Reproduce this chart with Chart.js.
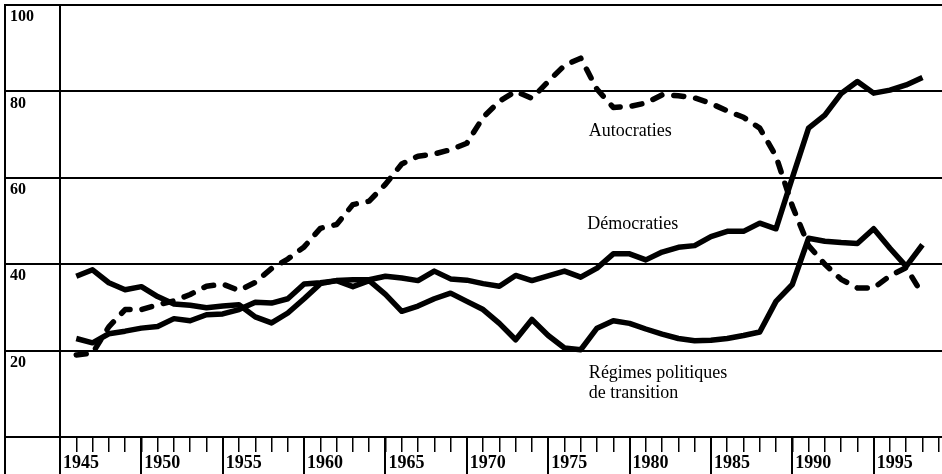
<!DOCTYPE html>
<html>
<head>
<meta charset="utf-8">
<script src="https://cdn.jsdelivr.net/npm/chart.js@4.4.1/dist/chart.umd.min.js"></script>
<style>
  html, body { margin: 0; padding: 0; background: #fff; }
  canvas { display: block; }
</style>
</head>
<body>
<canvas id="chart" width="942" height="474"></canvas>
<script>
// yearly shares
const years = [
  1946, 1947, 1948, 1949, 1950, 1951, 1952, 1953, 1954, 1955,
  1956, 1957, 1958, 1959, 1960, 1961, 1962, 1963, 1964, 1965,
  1966, 1967, 1968, 1969, 1970, 1971, 1972, 1973, 1974, 1975,
  1976, 1977, 1978, 1979, 1980, 1981, 1982, 1983, 1984, 1985,
  1986, 1987, 1988, 1989, 1990, 1991, 1992, 1993, 1994, 1995,
  1996, 1997, 1998,
];

const autocraties = [
  19, 19.4, 25.5, 29.5, 29.5, 30.6, 31.5, 33, 34.9, 35.4,
  33.9, 35.8, 39, 41.2, 44, 48.3, 49.2, 53.8, 54.6, 58.5,
  63.2, 65, 65.5, 66.5, 68, 74, 77.7, 80, 78.4, 82.3,
  86, 87.7, 80.5, 76.3, 76.5, 77.3, 79.2, 79, 78.5, 77.2,
  75.5, 74, 71.5, 65, 53.5, 44.3, 40, 36.5, 34.5, 34.5,
  37.3, 39.2, 33,
];

const democraties = [
  22.8, 21.8, 23.9, 24.5, 25.2, 25.6, 27.4, 26.9, 28.3, 28.5,
  29.5, 31.2, 31, 32, 35.4, 35.7, 36.2, 36.4, 36.4, 37.2,
  36.8, 36.2, 38.4, 36.6, 36.3, 35.5, 34.9, 37.4, 36.2, 37.3,
  38.4, 37, 39.1, 42.4, 42.4, 41, 42.8, 43.9, 44.3, 46.4,
  47.6, 47.6, 49.5, 48.2, 60, 71.5, 74.5, 79.5, 82.3, 79.6,
  80.3, 81.5, 83.2,
];

const transition = [
  37.2, 38.7, 35.7, 34.1, 34.8, 32.5, 30.8, 30.5, 29.9, 30.3,
  30.6, 27.8, 26.4, 28.7, 32, 35.5, 36.2, 34.8, 36.2, 33,
  29.1, 30.3, 32, 33.3, 31.4, 29.5, 26.3, 22.5, 27.2, 23.5,
  20.6, 20.2, 25.2, 26.9, 26.3, 25, 23.8, 22.8, 22.3, 22.4,
  22.8, 23.5, 24.3, 31.4, 35.3, 46, 45.3, 45, 44.8, 48.2,
  43.7, 39.5, 44.5,
];

const labelYears = [1945, 1950, 1955, 1960, 1965, 1970, 1975, 1980, 1985, 1990, 1995];

const notes = [
  { text: "Autocraties", year: 1977.5, value: 69.7 },
  { text: "Démocraties", year: 1977.4, value: 48.1 },
  { text: "Régimes politiques", year: 1977.5, value: 13.7 },
  { text: "de transition", year: 1977.5, value: 9.0 },
];

const serif = "'Liberation Serif', 'Times New Roman', serif";

const toPoints = (series) => years.map((yr, i) => ({ x: yr, y: series[i] }));

const lineStyle = {
  borderColor: "#000",
  borderWidth: 5.5,
  pointRadius: 0,
  tension: 0,
  fill: false,
  borderJoinStyle: "round",
};

// frame, long year ticks and the in-plot captions
const framePlugin = {
  id: "frame",
  afterDraw(chart) {
    const { ctx, chartArea, scales } = chart;
    const h = chart.height;
    ctx.save();
    ctx.strokeStyle = "#000";
    ctx.lineWidth = 2;
    ctx.beginPath();
    ctx.moveTo(5, 4);
    ctx.lineTo(5, h);
    labelYears.forEach((yr) => {
      const px = Math.round(scales.x.getPixelForValue(yr));
      ctx.moveTo(px, chartArea.bottom);
      ctx.lineTo(px, h);
    });
    ctx.stroke();

    ctx.fillStyle = "#000";
    ctx.font = "18px " + serif;
    ctx.textBaseline = "alphabetic";
    ctx.textAlign = "left";
    notes.forEach((n) => {
      ctx.fillText(n.text, scales.x.getPixelForValue(n.year), scales.y.getPixelForValue(n.value));
    });
    ctx.restore();
  },
};

new Chart("chart", {
  type: "line",
  data: {
    datasets: [
      { label: "Autocraties", data: toPoints(autocraties), ...lineStyle, borderDash: [10, 12], borderCapStyle: "round" },
      { label: "Démocraties", data: toPoints(democraties), ...lineStyle },
      { label: "Régimes politiques de transition", data: toPoints(transition), ...lineStyle },
    ],
  },
  options: {
    responsive: false,
    animation: false,
    devicePixelRatio: 1,
    layout: { padding: { left: 10, top: 5, right: 0, bottom: 0 } },
    plugins: {
      legend: { display: false },
      tooltip: { enabled: false },
    },
    scales: {
      x: {
        type: "linear",
        min: 1945,
        max: 1999.2,
        afterFit: (scale) => {
          scale.height = 37;
          scale.paddingLeft = 0;
          scale.paddingRight = 0;
        },
        border: { color: "#000", width: 2 },
        grid: { drawOnChartArea: false, color: "#000", lineWidth: 1.5, tickLength: 15 },
        ticks: {
          stepSize: 1,
          autoSkip: false,
          includeBounds: false,
          maxRotation: 0,
          align: "start",
          labelOffset: 3,
          padding: 1,
          color: "#000",
          font: { family: serif, size: 18, weight: "bold" },
          callback: (v) => (v % 5 === 0 ? String(v) : ""),
        },
      },
      y: {
        min: 0,
        max: 100,
        afterFit: (scale) => {
          scale.width = 50;
          scale.paddingTop = 0;
          scale.paddingBottom = 0;
        },
        border: { color: "#000", width: 2 },
        grid: { color: "#000", lineWidth: 2, tickLength: 55 },
        ticks: {
          stepSize: 20,
          crossAlign: "far",
          labelOffset: 12,
          color: "#000",
          font: { family: serif, size: 16, weight: "bold" },
          callback: (v) => (v === 0 ? "" : String(v)),
        },
      },
    },
  },
  plugins: [framePlugin],
});
</script>
</body>
</html>
